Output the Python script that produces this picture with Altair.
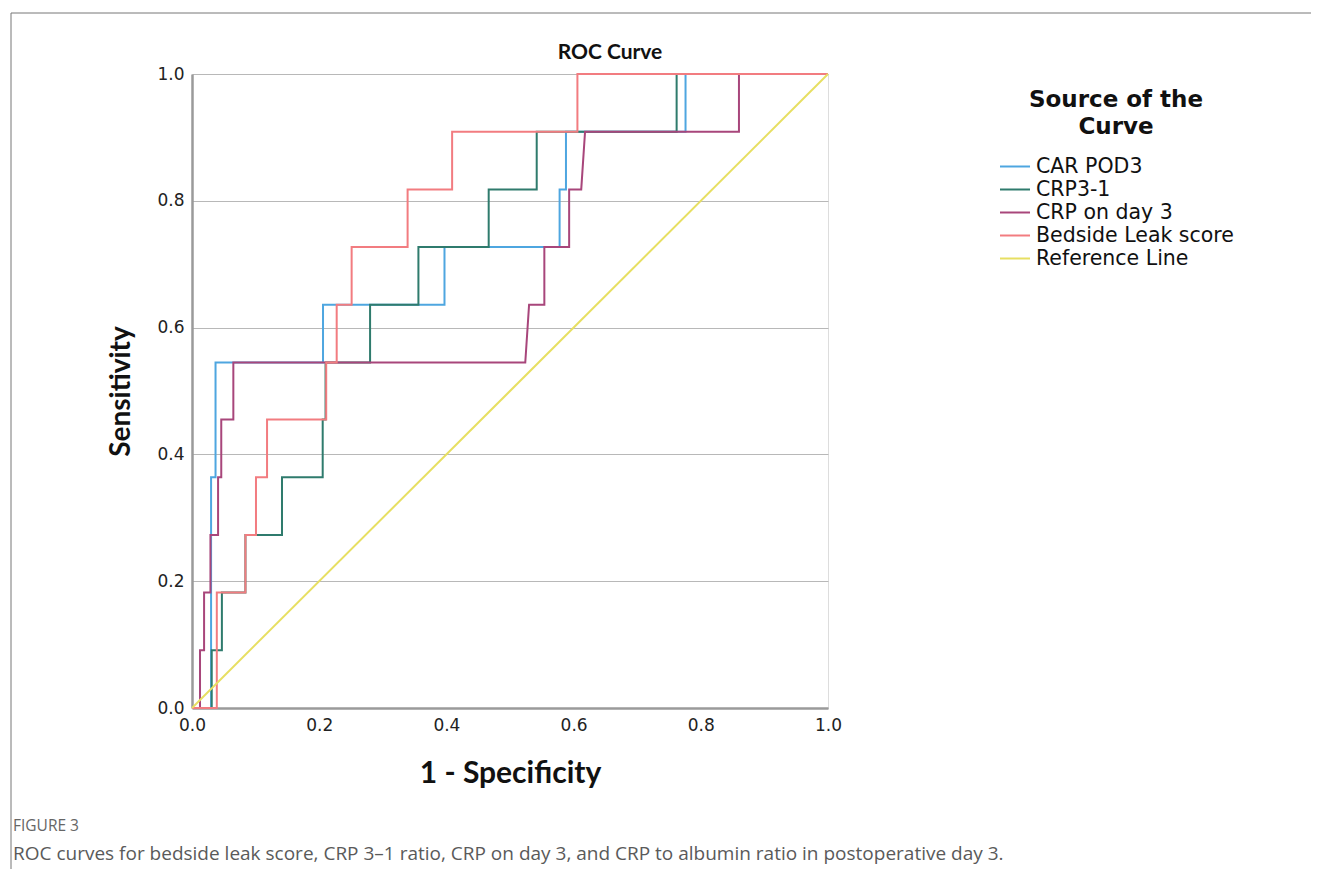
import altair as alt
import pandas as pd

# ---- data (1 - specificity, sensitivity) ----
series_names = ["CAR POD3", "CRP3-1", "CRP on day 3", "Bedside Leak score", "Reference Line"]
series_colors = ["#4ea6e0", "#2f7b6d", "#a8467b", "#f27c80", "#e7df62"]

car_fpr = [0, 0.030, 0.030, 0.037, 0.037, 0.206, 0.206, 0.397, 0.397, 0.578, 0.578, 0.588, 0.588, 0.776, 0.776, 1.0]
car_tpr = [0, 0, 0.364, 0.364, 0.545, 0.545, 0.636, 0.636, 0.727, 0.727, 0.818, 0.818, 0.909, 0.909, 1.0, 1.0]

crp31_fpr = [0, 0.031, 0.031, 0.047, 0.047, 0.084, 0.084, 0.1415, 0.1415, 0.2055, 0.2055, 0.21, 0.21,
             0.28, 0.28, 0.356, 0.356, 0.4665, 0.4665, 0.542, 0.542, 0.762, 0.762, 1.0]
crp31_tpr = [0, 0, 0.091, 0.091, 0.182, 0.182, 0.273, 0.273, 0.364, 0.364, 0.455, 0.455, 0.545,
             0.545, 0.636, 0.636, 0.727, 0.727, 0.818, 0.818, 0.909, 0.909, 1.0, 1.0]

crp3_fpr = [0, 0.0126, 0.0126, 0.019, 0.019, 0.029, 0.029, 0.041, 0.041, 0.046, 0.046, 0.065, 0.065,
            0.524, 0.530, 0.554, 0.554, 0.593, 0.593, 0.612, 0.618, 0.86, 0.86, 1.0]
crp3_tpr = [0, 0, 0.091, 0.091, 0.182, 0.182, 0.273, 0.273, 0.364, 0.364, 0.455, 0.455, 0.545,
            0.545, 0.636, 0.636, 0.727, 0.727, 0.818, 0.818, 0.909, 0.909, 1.0, 1.0]

bls_fpr = [0, 0.039, 0.039, 0.084, 0.084, 0.1006, 0.1006, 0.118, 0.118, 0.211, 0.211, 0.2275, 0.2275,
           0.251, 0.251, 0.339, 0.339, 0.409, 0.409, 0.606, 0.606, 1.0]
bls_tpr = [0, 0, 0.182, 0.182, 0.273, 0.273, 0.364, 0.364, 0.455, 0.455, 0.545, 0.545, 0.636,
           0.636, 0.727, 0.727, 0.818, 0.818, 0.909, 0.909, 1.0, 1.0]

ref_fpr = [0, 1.0]
ref_tpr = [0, 1.0]

axis_ticks = [0.0, 0.2, 0.4, 0.6, 0.8, 1.0]

chart_title = "ROC Curve"
x_title = "1 - Specificity"
y_title = "Sensitivity"
legend_title = ["Source of the", "Curve"]
fig_label = "FIGURE 3"
caption = ("ROC curves for bedside leak score, CRP 3\u20131 ratio, CRP on day 3, and CRP to "
           "albumin ratio in postoperative day 3.")

# ---- build table ----
rows = []
for name, fx, fy in [
    ("CAR POD3", car_fpr, car_tpr),
    ("CRP3-1", crp31_fpr, crp31_tpr),
    ("CRP on day 3", crp3_fpr, crp3_tpr),
    ("Bedside Leak score", bls_fpr, bls_tpr),
    ("Reference Line", ref_fpr, ref_tpr),
]:
    for i, (a, b) in enumerate(zip(fx, fy)):
        rows.append({"series": name, "fpr": a, "tpr": b, "i": i})
df = pd.DataFrame(rows)

W, H = 636, 634

lines = alt.Chart(df).mark_line(strokeWidth=2, interpolate="linear").encode(
    x=alt.X("fpr:Q",
            scale=alt.Scale(domain=[0, 1], nice=False, zero=False),
            axis=alt.Axis(values=axis_ticks, format=".1f", title=x_title, grid=False,
                          labelFlush=False,
                          labelFont="DejaVu Sans", labelFontSize=17, labelColor="#222",
                          labelPadding=9, tickSize=0, domainColor="#9a9a9a", domainWidth=2.5,
                          titleFont="Lato", titleFontSize=30, titleFontWeight="bold",
                          titleColor="#111", titlePadding=25)),
    y=alt.Y("tpr:Q",
            scale=alt.Scale(domain=[0, 1], nice=False, zero=False),
            axis=alt.Axis(values=axis_ticks, format=".1f", title=y_title, grid=True,
                          labelFlush=False,
                          gridColor="#b8b8b8", gridWidth=1.2,
                          labelFont="DejaVu Sans", labelFontSize=17, labelColor="#222",
                          labelPadding=8, tickSize=0, domainColor="#9a9a9a", domainWidth=2.5,
                          titleFont="Lato", titleFontSize=28, titleFontWeight="bold",
                          titleColor="#111", titlePadding=21)),
    color=alt.Color("series:N",
                    scale=alt.Scale(domain=series_names, range=series_colors),
                    sort=series_names,
                    legend=alt.Legend(title=legend_title, orient="none", legendX=807, legendY=15,
                                      titleFont="DejaVu Sans", titleFontSize=23,
                                      titleFontWeight="bold", titleColor="#111",
                                      titleAnchor="middle", titleAlign="center",
                                      titleLineHeight=27, titlePadding=16,
                                      labelFont="DejaVu Sans", labelFontSize=20.5,
                                      labelColor="#111", labelOffset=5, labelLimit=400,
                                      symbolType="stroke", symbolSize=900,
                                      symbolStrokeWidth=2, clipHeight=23, rowPadding=0)),
    order=alt.Order("i:Q"),
)

one = pd.DataFrame({"k": [0]})

frame_top = alt.Chart(one).mark_rule(color="#777", strokeWidth=1).encode(
    x=alt.value(-181), x2=alt.value(1119), y=alt.value(-61))
frame_left = alt.Chart(one).mark_rule(color="#777", strokeWidth=1).encode(
    x=alt.value(-181), y=alt.value(-61), y2=alt.value(795))

title_df = pd.DataFrame({"t": [chart_title]})
title_text = alt.Chart(title_df).mark_text(align="center", baseline="alphabetic", font="Lato",
                                           fontSize=21, fontWeight="bold", color="#111").encode(
    x=alt.value(418), y=alt.value(-15), text="t:N")

fig_df = pd.DataFrame({"t": [fig_label]})
cap_df = pd.DataFrame({"t": [caption]})
fig_text = alt.Chart(fig_df).mark_text(align="left", baseline="middle", font="Open Sans",
                                       fontSize=15.5, color="#666").encode(
    x=alt.value(-179), y=alt.value(752), text="t:N")
cap_text = alt.Chart(cap_df).mark_text(align="left", baseline="middle", font="Open Sans",
                                       fontSize=19, color="#5a5a5a").encode(
    x=alt.value(-179), y=alt.value(780), text="t:N")

chart = alt.layer(frame_top, frame_left, lines, title_text, fig_text, cap_text).properties(
    width=W, height=H,
    padding={"left": 2, "top": 4, "right": 2, "bottom": 0},
).configure_view(stroke=None).configure(background="white")

chart.save("out.html", embed_options={"renderer": "svg", "actions": False})
